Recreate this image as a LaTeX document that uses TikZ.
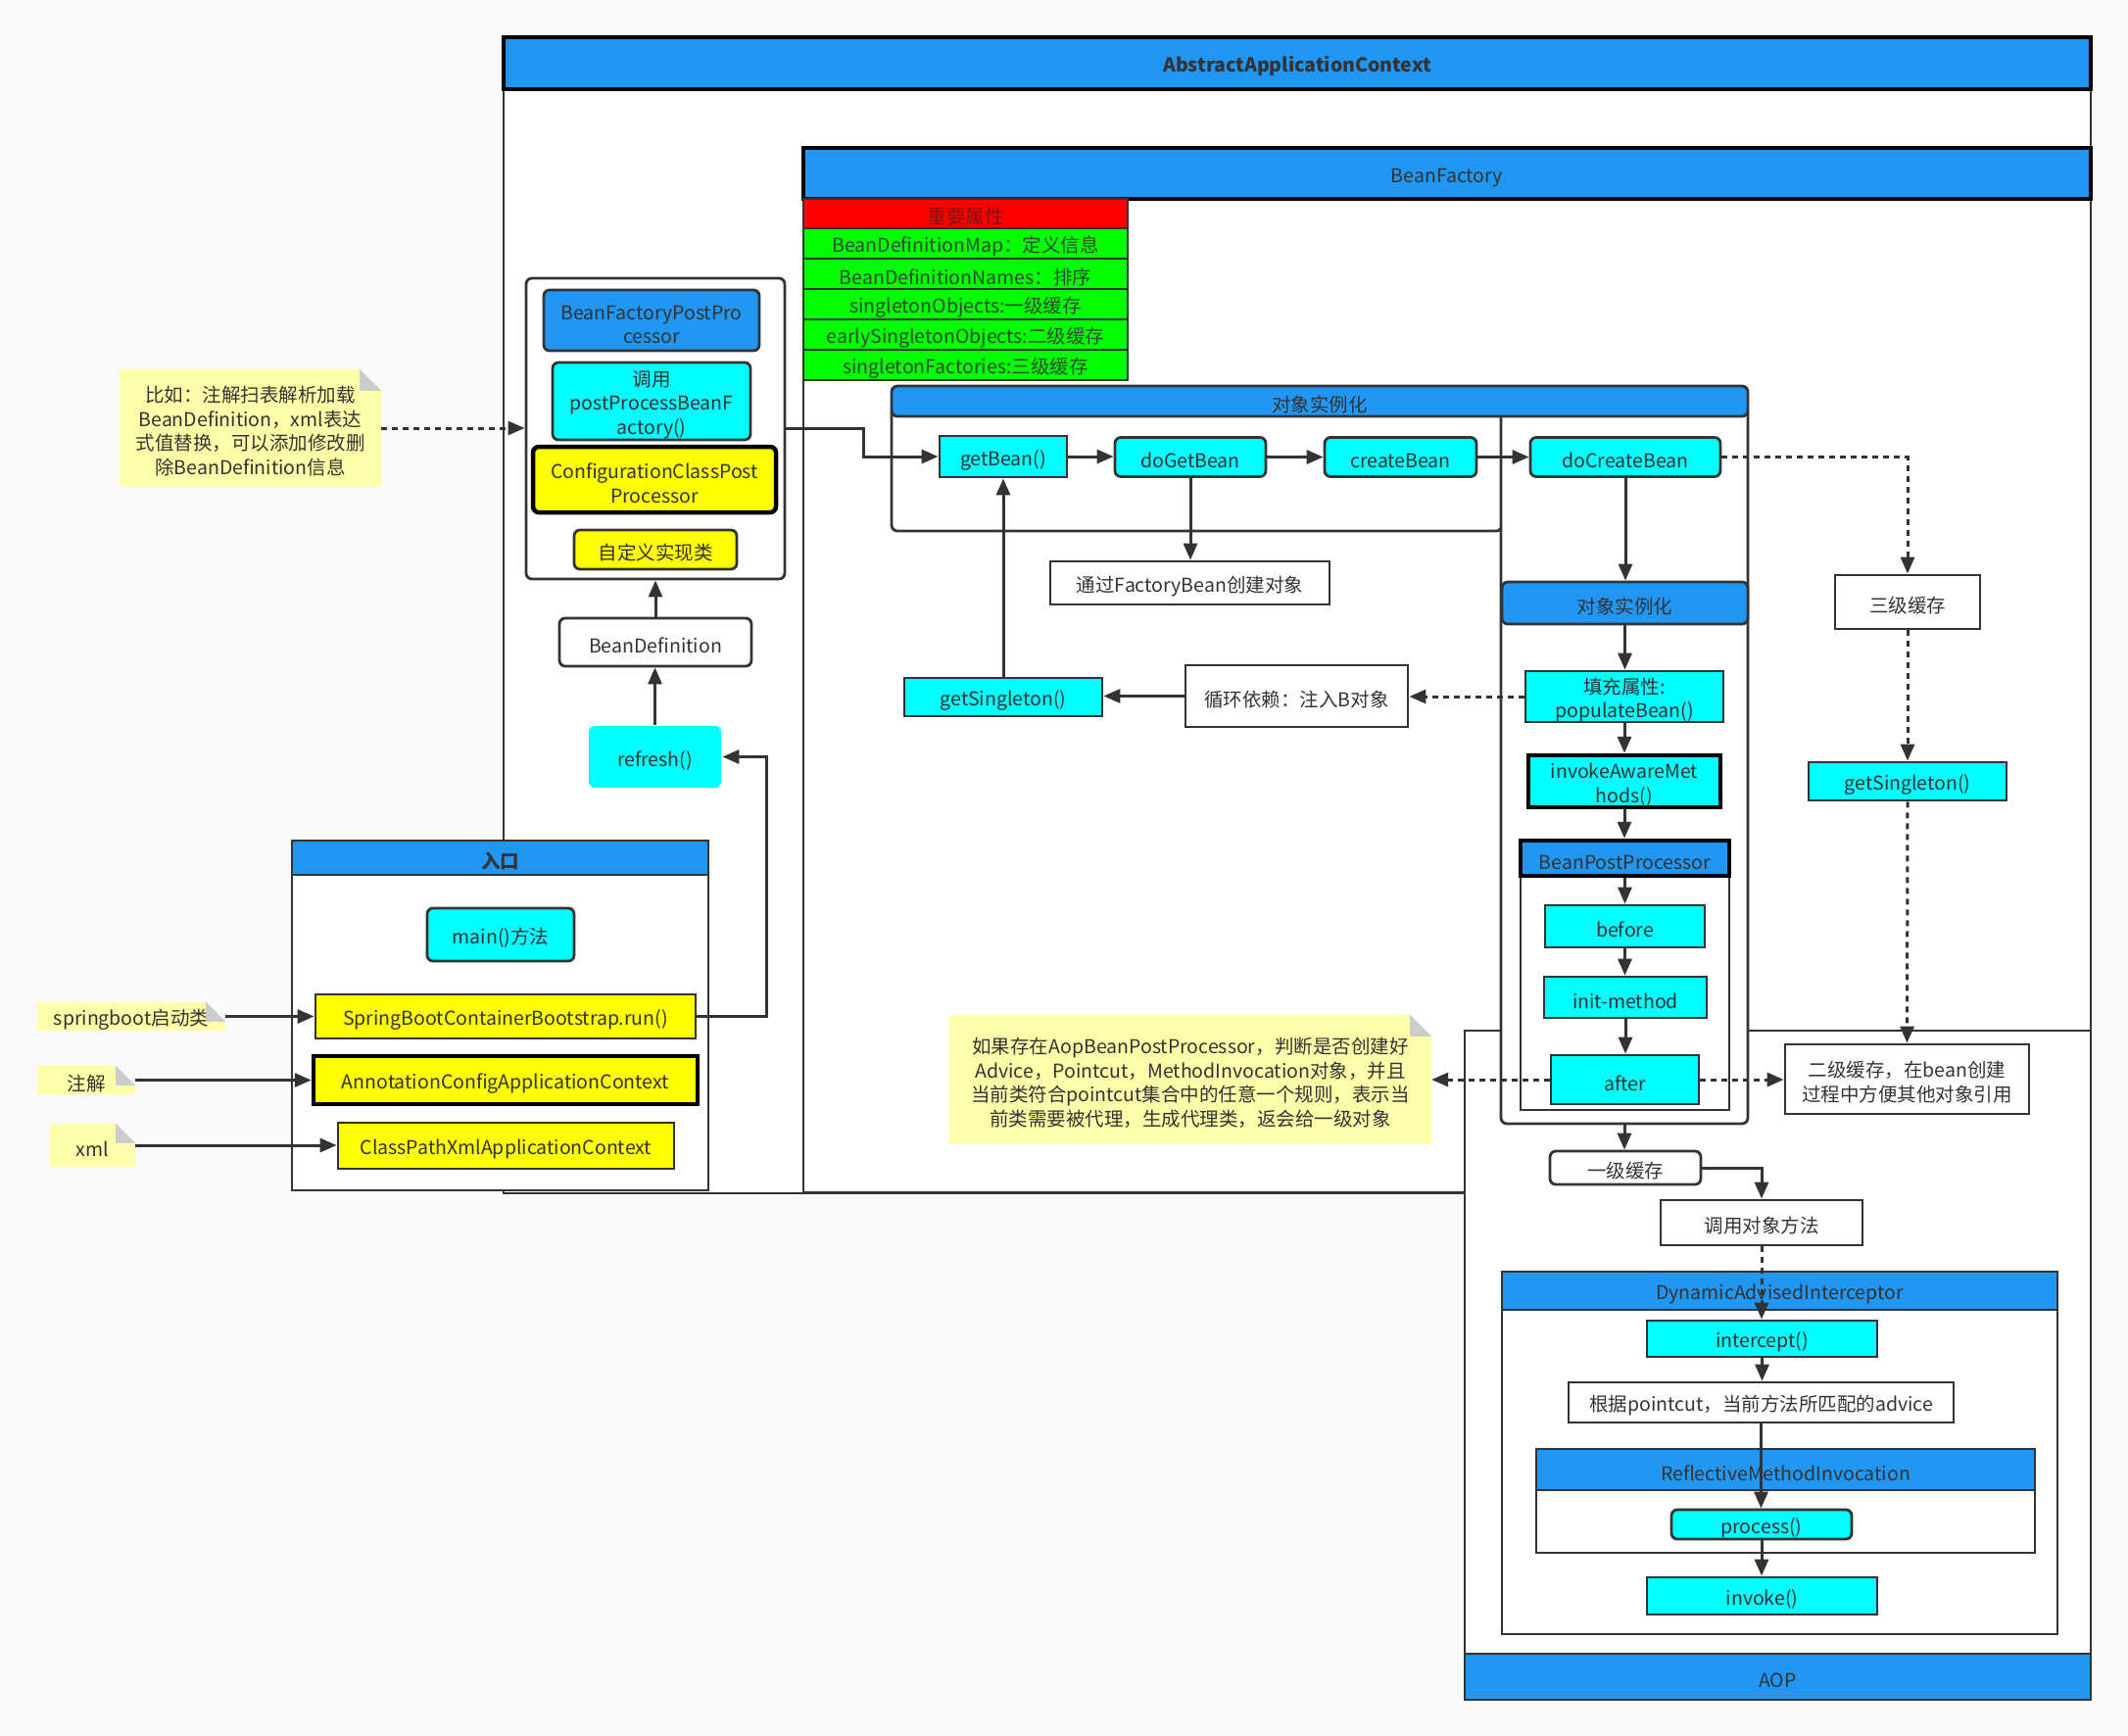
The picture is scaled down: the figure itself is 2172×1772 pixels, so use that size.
\documentclass[tikz,border=0pt]{standalone}
\usepackage{fontspec}
\setmainfont{Noto Sans CJK SC}
\usetikzlibrary{arrows.meta}
\definecolor{ink}{HTML}{333333}
\definecolor{blu}{HTML}{2196F3}
\definecolor{cyn}{HTML}{00FFFF}
\definecolor{yel}{HTML}{FFFF00}
\definecolor{grn}{HTML}{00FF00}
\definecolor{rd}{HTML}{FF0000}
\definecolor{redtxt}{HTML}{7A1414}
\definecolor{grntxt}{HTML}{2E4A2E}
\definecolor{notey}{HTML}{FFFFAA}
\definecolor{fold}{HTML}{CCCCCC}
\definecolor{bg}{HTML}{FAFAFA}
\newcommand\dfont{\fontsize{19.5pt}{24.5pt}\selectfont}
\newcommand\st{\rule{0pt}{23pt}}
\tikzset{
  sz/.style 2 args={minimum width=#1pt, minimum height=#2pt},
  base/.style={draw=ink, line width=2.8pt, text=ink, font=\dfont, inner sep=0pt, align=center},
  cbox/.style={base, fill=cyn},
  ybox/.style={base, fill=yel},
  wbox/.style={base, fill=white},
  hdr/.style={base, fill=blu},
  rnd/.style={rounded corners=6pt},
  heavy/.style={draw=black, line width=4.5pt},
  cont/.style={draw=ink, line width=2.8pt, fill=white, inner sep=0pt},
  tcell/.style={base, text=grntxt},
  notebox/.style={fill=notey, text=ink, font=\dfont, inner sep=0pt, align=center},
  conn/.style={draw=ink, line width=3pt, -{Triangle[length=17pt,width=14pt]}},
  dconn/.style={conn, dash pattern=on 6pt off 5pt},
}
\begin{document}
\begin{tikzpicture}[x=1pt,y=-1pt]
\fill[bg] (0,0) rectangle (2172,1772);
\useasboundingbox (0,0) rectangle (2172,1772);

% ---------- AbstractApplicationContext ----------
\node[cont, sz={1620}{1180}] (aacB) at (1324,628) {};
\node[hdr, heavy, sz={1620}{53}, font=\dfont\bfseries] (aacH) at (1324,64.5) {\st AbstractApplicationContext};

% ---------- BeanFactory ----------
\node[cont, sz={1314}{1066}] (bfB) at (1477,684) {};
\node[hdr, heavy, sz={1314}{52}] (bfH) at (1477,177) {\st BeanFactory};

% properties table
\node[tcell, fill=rd, text=redtxt, sz={331}{30}] (pH) at (985.5,218) {\st 重要属性};
\node[tcell, fill=grn, sz={331}{31}] (p1) at (985.5,248.5) {\st BeanDefinitionMap：定义信息};
\node[tcell, fill=grn, sz={331}{31}] (p2) at (985.5,279.5) {\st BeanDefinitionNames：排序};
\node[tcell, fill=grn, sz={331}{31}] (p3) at (985.5,310.5) {\st singletonObjects:一级缓存};
\node[tcell, fill=grn, sz={331}{31}] (p4) at (985.5,341.5) {\st earlySingletonObjects:二级缓存};
\node[tcell, fill=grn, sz={331}{31}] (p5) at (985.5,372.5) {\st singletonFactories:三级缓存};

% ---------- AOP ----------
\node[cont, sz={639}{683}] (aopB) at (1814.5,1393.5) {};
\node[hdr, sz={639}{47}] (aopH) at (1814.5,1711.5) {\st AOP};

% ---------- object instantiation ----------
\node[cont, rnd, sz={623}{127}] (inst1B) at (1221.5,478.5) {};
\node[cont, rnd, sz={252}{732}] (col) at (1658,781) {};
\node[hdr, rnd, sz={874}{31}] (inst1H) at (1347,409.5) {\st 对象实例化};
\node[hdr, rnd, sz={251}{43}] (inst2H) at (1658.5,615.5) {\st 对象实例化};

\node[cbox, sz={130}{42}] (getBean) at (1024,466) {\st getBean()};
\node[cbox, rnd, sz={154}{40}] (doGetBean) at (1215,466.5) {\st doGetBean};
\node[cbox, rnd, sz={155}{40}] (createBean) at (1429.5,466.5) {\st createBean};
\node[cbox, rnd, sz={194}{40}] (doCreateBean) at (1659,466.5) {\st doCreateBean};
\node[wbox, sz={285}{44}] (fb) at (1214.5,595) {\st 通过FactoryBean创建对象};
\node[cbox, sz={202}{39}] (gs1) at (1024,711.5) {\st getSingleton()};
\node[wbox, sz={227}{63}] (cyc) at (1323.5,710.5) {\st 循环依赖：注入B对象};
\node[cbox, sz={202}{52}] (pop) at (1658,711) {\st 填充属性:\\populateBean()};
\node[cbox, heavy, sz={196}{53}] (aware) at (1658,797.5) {\st invokeAwareMet\\hods()};

% BeanPostProcessor
\node[cont, sz={213}{239}] (bppB) at (1658.5,1013.5) {};
\node[hdr, heavy, sz={213}{36}] (bppH) at (1658.5,876) {\st BeanPostProcessor};
\node[cbox, sz={163}{43}] (before) at (1658.5,945.5) {\st before};
\node[cbox, sz={166}{42}] (init) at (1659,1018) {\st init-method};
\node[cbox, sz={151}{50}] (after) at (1658.5,1102) {\st after};

% caches
\node[wbox, sz={148}{55}] (l3) at (1947,614.5) {\st 三级缓存};
\node[cbox, sz={202}{39}] (gs2) at (1947,797.5) {\st getSingleton()};
\node[wbox, sz={249}{71}] (l2) at (1946.5,1101.5) {\st 二级缓存，在bean创建\\过程中方便其他对象引用};
\node[wbox, rnd, sz={154}{34}] (l1) at (1659,1192) {\st 一级缓存};
\node[wbox, sz={206}{46}] (callm) at (1798,1248) {\st 调用对象方法};

% note 2
\node[notebox, sz={492}{132}] (note2) at (1215,1102) {\st 如果存在AopBeanPostProcessor，判断是否创建好\\Advice，Pointcut，MethodInvocation对象，并且\\当前类符合pointcut集合中的任意一个规则，表示当\\前类需要被代理，生成代理类，返会给一级对象};
\fill[white] ([xshift=-22pt]note2.north east) -- (note2.north east) -- ([yshift=-22pt]note2.north east) -- cycle;
\fill[fold] ([xshift=-22pt]note2.north east) -- ([xshift=-22pt,yshift=-22pt]note2.north east) -- ([yshift=-22pt]note2.north east) -- cycle;

% DynamicAdvisedInterceptor
\node[cont, sz={567}{331}] (daiB) at (1816.5,1502.5) {};
\node[hdr, sz={567}{39}] (daiH) at (1816.5,1317.5) {\st DynamicAdvisedInterceptor};
\node[cbox, sz={235}{37}] (intercept) at (1798.5,1366.5) {\st intercept()};
\node[wbox, sz={393}{41}] (adv) at (1797.5,1431.5) {\st 根据pointcut，当前方法所匹配的advice};
\node[cont, sz={509}{64}] (rmiB) at (1822.5,1553) {};
\node[hdr, sz={509}{42}] (rmiH) at (1822.5,1500) {\st ReflectiveMethodInvocation};
\node[cbox, rnd, sz={184}{30}] (process) at (1798,1556) {\st process()};
\node[cbox, sz={235}{38}] (invoke) at (1798.5,1629) {\st invoke()};

% ---------- BeanFactoryPostProcessor group ----------
\node[cont, rnd, sz={264}{307}] (grp) at (669,437.5) {};
\node[hdr, rnd, sz={220}{62}] (bfpp) at (665,327) {\st BeanFactoryPostPro\\cessor};
\node[cbox, rnd, sz={202}{79}] (callpp) at (665,409.5) {\st 调用\\postProcessBeanF\\actory()};
\node[ybox, rnd, heavy, sz={248}{67}] (ccpp) at (668,489.5) {\st ConfigurationClassPost\\Processor};
\node[ybox, rnd, sz={166}{40}] (custom) at (669,561) {\st 自定义实现类};
\node[wbox, rnd, sz={196}{49}] (bdef) at (669,655.5) {\st BeanDefinition};
\node[cbox, rnd, draw=none, sz={135}{63}] (refresh) at (668.5,772.5) {\st refresh()};

% note 1
\node[notebox, sz={267}{120}] (note1) at (255.5,437) {\st 比如：注解扫表解析加载\\BeanDefinition，xml表达\\式值替换，可以添加修改删\\除BeanDefinition信息};
\fill[bg] ([xshift=-22pt]note1.north east) -- (note1.north east) -- ([yshift=-22pt]note1.north east) -- cycle;
\fill[fold] ([xshift=-22pt]note1.north east) -- ([xshift=-22pt,yshift=-22pt]note1.north east) -- ([yshift=-22pt]note1.north east) -- cycle;

% ---------- entry ----------
\node[cont, sz={425}{357}] (entB) at (510.5,1036.5) {};
\node[hdr, sz={425}{35}, font=\dfont\bfseries] (entH) at (510.5,875.5) {\st 入口};
\node[cbox, rnd, sz={150}{54}] (mainm) at (511,954) {\st main()方法};
\node[ybox, sz={388}{45}] (run) at (516,1037.5) {\st SpringBootContainerBootstrap.run()};
\node[ybox, heavy, sz={392}{49}] (acac) at (516,1102.5) {\st AnnotationConfigApplicationContext};
\node[ybox, sz={343}{47}] (cpx) at (516.5,1169.5) {\st ClassPathXmlApplicationContext};

% small notes
\node[notebox, sz={192}{29}] (nSB) at (134,1037.5) {\st springboot启动类};
\fill[bg] ([xshift=-20pt]nSB.north east) -- (nSB.north east) -- ([yshift=-20pt]nSB.north east) -- cycle;
\fill[fold] ([xshift=-20pt]nSB.north east) -- ([xshift=-20pt,yshift=-20pt]nSB.north east) -- ([yshift=-20pt]nSB.north east) -- cycle;
\node[notebox, sz={100}{29}] (nZJ) at (88,1102.5) {\st 注解};
\fill[bg] ([xshift=-20pt]nZJ.north east) -- (nZJ.north east) -- ([yshift=-20pt]nZJ.north east) -- cycle;
\fill[fold] ([xshift=-20pt]nZJ.north east) -- ([xshift=-20pt,yshift=-20pt]nZJ.north east) -- ([yshift=-20pt]nZJ.north east) -- cycle;
\node[notebox, sz={87}{44}] (nXML) at (94.5,1169) {\st xml};
\fill[bg] ([xshift=-20pt]nXML.north east) -- (nXML.north east) -- ([yshift=-20pt]nXML.north east) -- cycle;
\fill[fold] ([xshift=-20pt]nXML.north east) -- ([xshift=-20pt,yshift=-20pt]nXML.north east) -- ([yshift=-20pt]nXML.north east) -- cycle;

% ---------- connectors ----------
\draw[dconn] (note1.east) -- (note1.east -| grp.west);
\draw[conn] (bdef.north) -- (bdef.north |- grp.south);
\draw[conn] (refresh.north) -- (refresh.north |- bdef.south);
\draw[conn] (run.east) -- ++(71,0) |- (refresh.east);
\draw[conn] (nSB.east) -- (nSB.east -| run.west);
\draw[conn] (nZJ.east) -- (nZJ.east -| acac.west);
\draw[conn] (nXML.east) -- (nXML.east -| cpx.west);

\draw[conn] (grp.east) -- ++(79,0) |- (getBean.west);
\draw[conn] (getBean.east) -- (getBean.east -| doGetBean.west);
\draw[conn] (doGetBean.east) -- (doGetBean.east -| createBean.west);
\draw[conn] (createBean.east) -- (createBean.east -| doCreateBean.west);
\draw[conn] (doGetBean.south) -- (doGetBean.south |- fb.north);
\draw[conn] (gs1.north) -- (gs1.north |- getBean.south);
\draw[conn] (cyc.west) -- (cyc.west -| gs1.east);
\draw[dconn] (pop.west) -- (pop.west -| cyc.east);
\draw[conn] (doCreateBean.south) -- (doCreateBean.south |- inst2H.north);
\draw[conn] (inst2H.south) -- (inst2H.south |- pop.north);
\draw[dconn] (doCreateBean.east) -| (l3.north);
\draw[dconn] (l3.south) -- (gs2.north);
\draw[dconn] (gs2.south) -- (l2.north);
\draw[conn] (pop.south) -- (pop.south |- aware.north);
\draw[conn] (aware.south) -- (aware.south |- bppH.north);
\draw[conn] (bppH.south) -- (bppH.south |- before.north);
\draw[conn] (before.south) -- (before.south |- init.north);
\draw[conn] (init.south) -- (init.south |- after.north);
\draw[dconn] (after.east) -- (after.east -| l2.west);
\draw[dconn] (after.west) -- (after.west -| note2.east);
\draw[conn] (col.south) -- (col.south |- l1.north);
\draw[conn] (l1.east) -| (callm.north);
\draw[dconn] (callm.south) -- (callm.south |- intercept.north);
\draw[conn] (intercept.south) -- (intercept.south |- adv.north);
\draw[conn] (adv.south) -- (adv.south |- process.north);
\draw[conn] (process.south) -- (process.south |- invoke.north);
\end{tikzpicture}
\end{document}
